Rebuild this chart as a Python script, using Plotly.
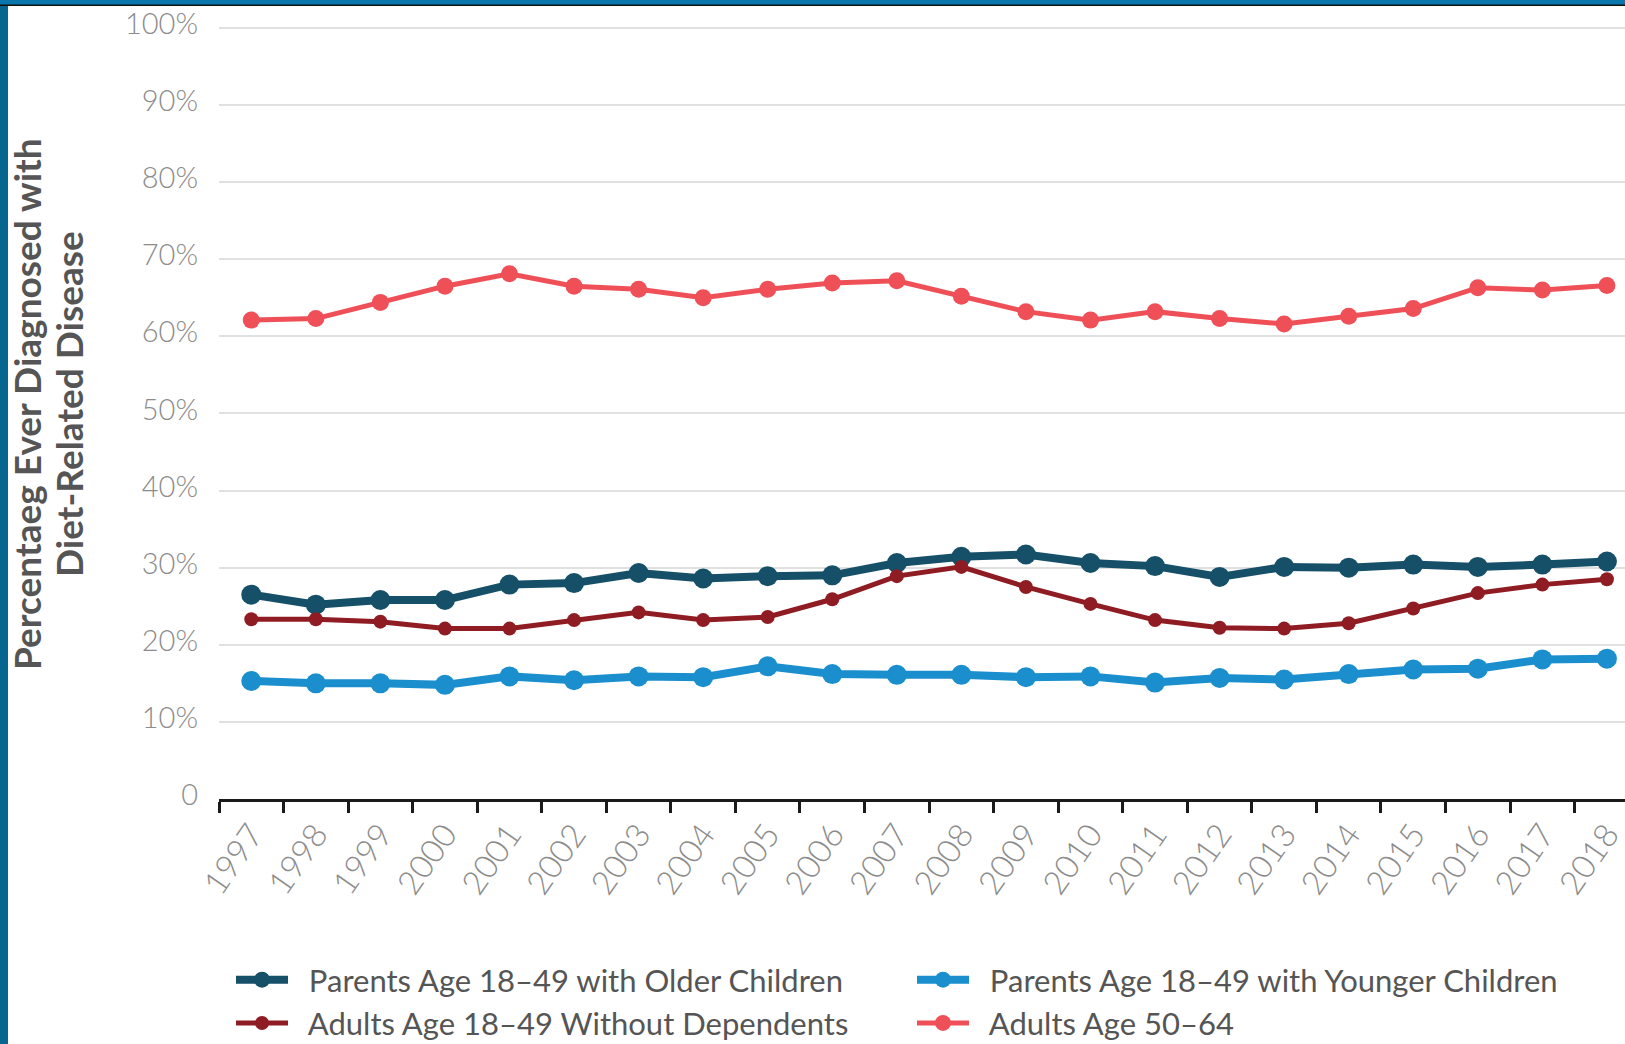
import plotly.graph_objects as go

years = [str(y) for y in range(1997, 2019)]

older_children = [26.5, 25.2, 25.8, 25.8, 27.8, 28.0, 29.3, 28.6, 28.9, 29.0, 30.6, 31.4, 31.7,
                  30.6, 30.2, 28.8, 30.1, 30.0, 30.4, 30.1, 30.4, 30.8]
younger_children = [15.3, 15.0, 15.0, 14.8, 15.9, 15.4, 15.9, 15.8, 17.2, 16.2, 16.1, 16.1, 15.8,
                    15.9, 15.1, 15.7, 15.5, 16.2, 16.8, 16.9, 18.1, 18.2]
without_dependents = [23.3, 23.3, 23.0, 22.1, 22.1, 23.2, 24.2, 23.2, 23.6, 25.9, 28.9, 30.1, 27.5,
                      25.3, 23.2, 22.2, 22.1, 22.8, 24.7, 26.7, 27.8, 28.5]
age_50_64 = [62.1, 62.3, 64.4, 66.5, 68.1, 66.5, 66.1, 65.0, 66.1, 66.9, 67.2, 65.2, 63.2,
             62.1, 63.2, 62.3, 61.6, 62.6, 63.6, 66.3, 66.0, 66.6]

series_names = ["Parents Age 18\u201349 with Older Children",
                "Parents Age 18\u201349 with Younger Children",
                "Adults Age 18\u201349 Without Dependents",
                "Adults Age 50\u201364"]

y_tickvals = [0, 10, 20, 30, 40, 50, 60, 70, 80, 90, 100]
y_ticktext = ["0", "10%", "20%", "30%", "40%", "50%", "60%", "70%", "80%", "90%", "100%"]

title_lines = ["Percentaeg Ever Diagnosed with", "Diet-Related Disease"]

W, H = 1625, 1044
ML, MR, MT, MB = 219, 0, 24, 245
PW, PH = W - ML - MR, H - MT - MB
Y_TOP = 100.5

def px_x(p):
    return (p - ML) / PW

def px_y(p):
    return (H - MB - p) / PH

styles = [
    dict(color="#154f68", lw=8, ms=20),
    dict(color="#1b8fce", lw=8, ms=20),
    dict(color="#8f1c22", lw=5, ms=14),
    dict(color="#ef5058", lw=5, ms=17),
]
data = [older_children, younger_children, without_dependents, age_50_64]

fig = go.Figure()
for name, vals, st in zip(series_names, data, styles):
    fig.add_trace(go.Scatter(
        x=years, y=vals, name="\u00a0\u00a0" + name, mode="lines+markers",
        line=dict(color=st["color"], width=st["lw"]),
        marker=dict(color=st["color"], size=st["ms"], line=dict(width=0)),
        cliponaxis=False,
    ))

font_family = "Lato, 'Open Sans', sans-serif"

fig.update_layout(
    width=W, height=H,
    margin=dict(l=ML, r=MR, t=MT, b=MB, pad=0, autoexpand=False),
    paper_bgcolor="white", plot_bgcolor="white",
    font=dict(family=font_family),
    showlegend=True,
    legend=dict(
        orientation="h", x=px_x(231), y=px_y(953), xanchor="left", yanchor="top",
        font=dict(size=31, color="#555555", family=font_family),
        entrywidth=614, itemwidth=52, traceorder="normal",
        bgcolor="rgba(0,0,0,0)",
    ),
    xaxis=dict(
        type="category", range=[-0.5, 21.28], automargin=False,
        showgrid=False, zeroline=False,
        showline=True, linecolor="#1a1a1a", linewidth=2.5,
        ticks="outside", tickson="boundaries", ticklen=11, tickwidth=2.5, tickcolor="#1a1a1a",
        tickangle=-55,
        tickfont=dict(size=33, color="#8c8c8c", family=font_family, weight=300),
    ),
    yaxis=dict(
        range=[0, Y_TOP], tickmode="array", tickvals=y_tickvals, ticktext=y_ticktext,
        automargin=False,
        showgrid=True, gridcolor="#e0e0e0", gridwidth=2,
        zeroline=False, showline=False, ticks="",
        ticklabelstandoff=20, ticklabelshift=-4,
        tickfont=dict(size=29, color="#8c8c8c", family=font_family, weight=300),
    ),
)

for line_text, cx in zip(title_lines, [26, 68]):
    fig.add_annotation(
        text="<b>" + line_text + "</b>",
        xref="paper", yref="paper", x=px_x(cx), y=px_y(404),
        xanchor="center", yanchor="middle", textangle=-90, showarrow=False,
        font=dict(size=37, color="#555555", family=font_family),
    )

# page border strips
fig.add_shape(type="rect", xref="paper", yref="paper",
              x0=px_x(0), x1=px_x(8), y0=px_y(H), y1=px_y(0),
              fillcolor="#06668f", line=dict(width=0), layer="above")
fig.add_shape(type="rect", xref="paper", yref="paper",
              x0=px_x(0), x1=px_x(W), y0=px_y(5), y1=px_y(0),
              fillcolor="#0a76ab", line=dict(width=0), layer="above")
fig.add_shape(type="rect", xref="paper", yref="paper",
              x0=px_x(0), x1=px_x(W), y0=px_y(6), y1=px_y(4.5),
              fillcolor="#111111", line=dict(width=0), layer="above")

fig.write_html("out.html")
